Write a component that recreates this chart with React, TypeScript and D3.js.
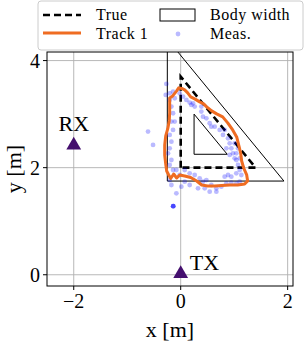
import React from "react";
import * as d3 from "d3";

const xTicks = [-2, 0, 2];
const yTicks = [0, 2, 4];

const trueShape: [number, number][] = [[0, 2], [0, 3.7], [1.4, 2], [0, 2]];
const bodyOuter: [number, number][] = [[-0.25, 1.75], [-0.25, 4.4], [1.93, 1.75], [-0.25, 1.75]];
const bodyInner: [number, number][] = [[0.25, 2.25], [0.25, 3.0], [0.87, 2.25], [0.25, 2.25]];

const track: [number, number][] = [
  [-0.206, 3.172], [-0.206, 3.303], [-0.15, 3.34], [-0.075, 3.434], [-0.037, 3.49],
  [0.019, 3.48], [0.075, 3.452], [0.131, 3.396], [0.187, 3.321], [0.262, 3.284],
  [0.355, 3.228], [0.43, 3.191], [0.486, 3.135], [0.579, 3.06], [0.673, 3.004],
  [0.785, 2.948], [0.879, 2.836], [0.972, 2.705], [1.047, 2.574], [1.084, 2.424],
  [1.121, 2.275], [1.14, 2.125], [1.178, 1.994], [1.234, 1.864], [1.252, 1.751],
  [1.196, 1.695], [1.065, 1.676], [0.916, 1.676], [0.766, 1.667], [0.636, 1.658],
  [0.505, 1.658], [0.393, 1.676], [0.299, 1.751], [0.187, 1.817], [0.075, 1.845],
  [-0.019, 1.864], [-0.075, 1.807], [-0.131, 1.882], [-0.187, 1.798], [-0.224, 1.864],
  [-0.262, 1.938], [-0.28, 2.069], [-0.299, 2.237], [-0.299, 2.424], [-0.28, 2.593],
  [-0.243, 2.723], [-0.215, 2.873], [-0.206, 3.022], [-0.206, 3.172],
];

const measX = [
  -0.206, -0.174, -0.143, -0.174, -0.112, -0.143, -0.206, -0.174, -0.206, -0.237,
  -0.174, -0.206, -0.143, -0.206, -0.174, -0.611, -0.517, -0.081, 0.012,
  -0.268, -0.28, -0.206, -0.143, -0.112, -0.019, 0.044, 0.106, 0.168, 0.231,
  0.262, 0.386, 0.417, 0.48, 0.542, 0.573, 0.386, 0.199,
  0.636, 0.729, 0.791, 0.822, 0.885, 0.916, 0.947, 0.978, 1.009, 1.04,
  1.072, 1.103, 1.04, 0.947, 0.885, 0.854, 0.916,
  -0.081, -0.019, 0.075, 0.168, 0.262, 0.355, 0.417, 0.48, 0.573, 0.667,
  0.76, 0.822, 0.854, 0.947, 1.04, 1.103, 1.134, 0.324, 0.449, 0.542, 0.667,
  0.168, 0.075, 1.04, 1.103, 1.072, 1.009, -0.14, -0.14, -0.14, -0.14,
];
const measY = [
  3.265, 3.14, 3.016, 2.86, 2.86, 2.704, 2.611, 2.486, 2.361, 2.268,
  2.143, 2.05, 1.956, 1.769, 1.676, 2.673, 2.424, 1.52, 1.645,
  3.564, 3.358, 3.389, 3.421, 3.296, 3.389, 3.327, 3.265, 3.215, 3.202,
  3.14, 3.047, 2.953, 2.922, 2.829, 2.766, 3.14, 3.171,
  2.766, 2.704, 2.611, 2.704, 2.548, 2.455, 2.361, 2.268, 2.175, 2.143,
  2.05, 1.956, 1.894, 1.832, 1.863, 2.361, 2.237,
  1.956, 1.863, 1.956, 1.894, 1.863, 1.801, 1.738, 1.769, 1.676, 1.614,
  1.645, 1.832, 1.707, 1.72, 1.707, 1.738, 1.863, 1.614, 1.614, 1.551, 1.551,
  1.676, 1.738, 2.268, 2.175, 2.361, 2.455, 1.28, 1.28, 1.28, 1.28,
];

const stationNames = ["RX", "TX"];
const stationX = [-2, 0];
const stationY = [2.4, 0];

const W = 305, H = 344;
const left = 47, right = 293, top = 52, bottom = 286;
const FONT = "'Liberation Serif', 'Times New Roman', serif";

export default function App() {
  const x = d3.scaleLinear().domain([-2.5, 2.1]).range([left, right]);
  const y = d3.scaleLinear().domain([-0.21, 4.16]).range([bottom, top]);
  const line = d3.line<[number, number]>().x(d => x(d[0])).y(d => y(d[1]));
  const tri = d3.symbol().type(d3.symbolTriangle).size(95)();
  const legendText = { fontFamily: FONT, fontSize: 16, letterSpacing: 0.5 };

  return (
    <svg width={W} height={H} style={{ position: "absolute", left: 0, top: 0, background: "#fff" }}>
      <defs>
        <clipPath id="plot">
          <rect x={left} y={top} width={right - left} height={bottom - top} />
        </clipPath>
      </defs>
      <rect x={0} y={0} width={W} height={H} fill="#fff" />
      {/* grid */}
      <g stroke="#b0b0b0" strokeWidth={0.9}>
        {xTicks.map(t => <line key={"gx" + t} x1={x(t)} x2={x(t)} y1={top} y2={bottom} />)}
        {yTicks.map(t => <line key={"gy" + t} x1={left} x2={right} y1={y(t)} y2={y(t)} />)}
      </g>
      <g clipPath="url(#plot)">
        <path d={line(bodyOuter)!} fill="none" stroke="#000" strokeWidth={1} />
        <path d={line(bodyInner)!} fill="none" stroke="#000" strokeWidth={1} />
        <path d={line(trueShape)!} fill="none" stroke="#000" strokeWidth={2.6} strokeDasharray="7,4" />
        {measX.map((mx, i) => (
          <circle key={"m" + i} cx={x(mx)} cy={y(measY[i])} r={2.4} fill="#0000ff" fillOpacity={0.27} />
        ))}
        <path d={line(track)!} fill="none" stroke="#ef6c22" strokeWidth={3} strokeLinejoin="round" />
        {stationNames.map((n, i) => (
          <path key={"s" + n} d={tri!} transform={`translate(${x(stationX[i])},${y(stationY[i]) - 1})`} fill="#440f6e" />
        ))}
      </g>
      {/* station labels */}
      <text x={x(stationX[0])} y={y(stationY[0]) - 15} textAnchor="middle" fontFamily={FONT} fontSize={22}>{stationNames[0]}</text>
      <text x={x(stationX[1]) + 9} y={y(stationY[1]) - 5} textAnchor="start" fontFamily={FONT} fontSize={22}>{stationNames[1]}</text>
      {/* spines */}
      <rect x={left} y={top} width={right - left} height={bottom - top} fill="none" stroke="#000" strokeWidth={1} />
      {/* ticks */}
      {xTicks.map(t => (
        <g key={"tx" + t}>
          <line x1={x(t)} x2={x(t)} y1={bottom} y2={bottom + 4} stroke="#000" />
          <text x={x(t)} y={bottom + 22} textAnchor="middle" fontFamily={FONT} fontSize={20}>{t < 0 ? "\u2212" + Math.abs(t) : t}</text>
        </g>
      ))}
      {yTicks.map(t => (
        <g key={"ty" + t}>
          <line x1={left - 4} x2={left} y1={y(t)} y2={y(t)} stroke="#000" />
          <text x={left - 7} y={y(t) + 7} textAnchor="end" fontFamily={FONT} fontSize={20}>{t}</text>
        </g>
      ))}
      <text x={(left + right) / 2} y={337} textAnchor="middle" fontFamily={FONT} fontSize={22}>x [m]</text>
      <text transform={`translate(21,${(top + bottom) / 2}) rotate(-90)`} textAnchor="middle" fontFamily={FONT} fontSize={22}>y [m]</text>
      {/* legend */}
      <g>
        <rect x={38} y={1} width={265} height={49} rx={3} fill="#fff" fillOpacity={0.85} stroke="#cccccc" strokeWidth={1} />
        <line x1={43} x2={81} y1={15} y2={15} stroke="#000" strokeWidth={2.6} strokeDasharray="7,4" />
        <text x={96} y={20} {...legendText}>True</text>
        <line x1={43} x2={81} y1={33} y2={33} stroke="#ef6c22" strokeWidth={3} />
        <text x={96} y={38.5} {...legendText}>Track 1</text>
        <rect x={160} y={9} width={35} height={12} fill="none" stroke="#000" strokeWidth={1} />
        <text x={210} y={20} {...legendText}>Body width</text>
        <circle cx={178} cy={34} r={2.4} fill="#0000ff" fillOpacity={0.27} />
        <text x={210} y={38.5} {...legendText}>Meas.</text>
      </g>
    </svg>
  );
}
